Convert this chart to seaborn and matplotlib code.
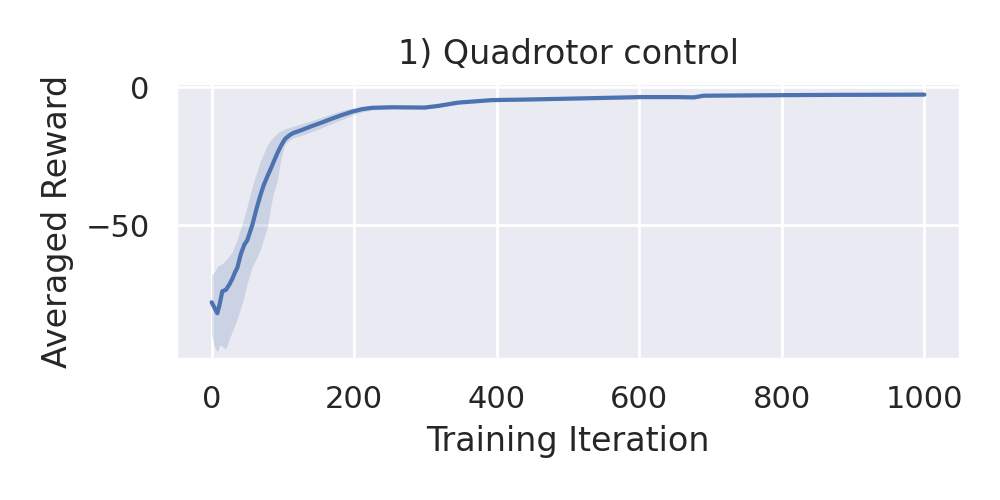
import numpy as np
import pandas as pd
import matplotlib
matplotlib.use("Agg")
import matplotlib.pyplot as plt
import seaborn as sns

iteration = [0, 4, 8, 11, 15, 20, 25, 29, 33, 36, 41, 46, 50, 57, 63, 68, 73, 78, 83, 87,
             92, 97, 103, 110, 115, 125, 141, 155, 169, 183, 197, 211, 225, 253, 299, 318,
             346, 393, 439, 477, 532, 602, 650, 677, 690, 742, 800, 873, 950, 1000]
reward_mean = [-78, -80, -82, -79, -74, -73.5, -71.5, -69.5, -67, -65.5, -60.5, -57, -55.5,
               -50, -44, -39.5, -35.5, -32.4, -29.5, -27, -24, -21.3, -18.7, -17.2, -16.5,
               -15.6, -14, -12.7, -11.3, -10, -8.8, -7.9, -7.4, -7.2, -7.3, -6.7, -5.5,
               -4.6, -4.4, -4.2, -3.9, -3.5, -3.5, -3.6, -3.0, -2.9, -2.8, -2.7, -2.65, -2.6]
reward_upper = [-68, -67, -65, -64.5, -64, -62.6, -61, -59.7, -57, -55, -51, -47, -43,
                -36, -31, -27, -24, -21, -19, -18, -16.6, -15.8, -15, -14.5, -14,
                -13.3, -12, -10.8, -9.5, -8.4, -7.5, -6.9, -6.6, -6.6, -6.7, -6.1, -4.9,
                -4.0, -3.8, -3.6, -3.3, -2.9, -2.9, -3.0, -2.4, -2.3, -2.2, -2.1, -2.05, -2.0]
reward_lower = [-90, -94, -96, -93.5, -94, -95, -91, -88.7, -86, -83.8, -80, -75.4, -71,
                -65, -62, -59, -55, -51, -43, -38, -34, -26, -20.5, -19, -18.2,
                -17.5, -16, -14.6, -13.1, -11.6, -10.1, -8.9, -8.2, -7.8, -7.9, -7.3, -6.1,
                -5.2, -5.0, -4.8, -4.5, -4.1, -4.1, -4.2, -3.6, -3.5, -3.4, -3.3, -3.25, -3.2]

sns.set_theme(style="darkgrid", context="notebook")

df = pd.DataFrame({"Training Iteration": iteration, "Averaged Reward": reward_mean})

fig, ax = plt.subplots(figsize=(5, 2.5), dpi=200)
fig.subplots_adjust(left=0.176, right=0.96, bottom=0.282, top=0.8334)

color = sns.color_palette("deep")[0]
ax.fill_between(iteration, reward_lower, reward_upper, color=color, alpha=0.2, linewidth=0)
sns.lineplot(data=df, x="Training Iteration", y="Averaged Reward", ax=ax, color=color)

ax.set_xlim(-50, 1050)
ax.set_ylim(-98.6, 1.5)
ax.set_yticks([0, -50])
ax.set_xticks([0, 200, 400, 600, 800, 1000])
ax.set_title("1) Quadrotor control", pad=7)

fig.savefig("out.png", dpi=200)
